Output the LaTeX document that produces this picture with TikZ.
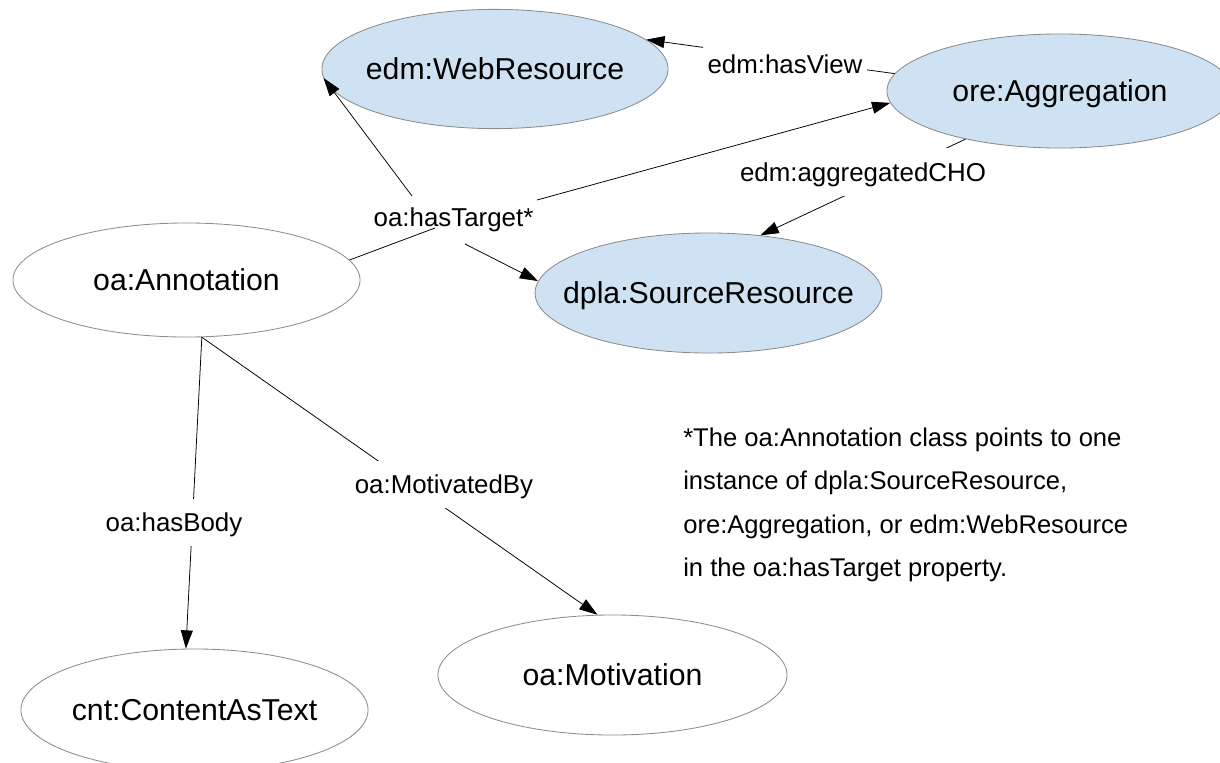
\documentclass[tikz,border=0pt]{standalone}
\usepackage{fontspec}
\setmainfont{Liberation Sans}
\usetikzlibrary{shapes.geometric,arrows.meta,calc}
\definecolor{nodeblue}{HTML}{CFE2F3}
\definecolor{edgegray}{HTML}{8C8C8C}
\newcommand\zerowd[1]{\makebox[0pt][c]{#1}}
\begin{document}
\begin{tikzpicture}[x=0.025cm,y=-0.025cm,
  cls/.style={ellipse,draw=edgegray,line width=0.6pt,inner sep=0pt,
    text height=15.4pt,text depth=0pt,font=\fontsize{21.5}{25}\selectfont},
  bluecls/.style={cls,fill=nodeblue},
  whitecls/.style={cls,fill=white},
  lbl/.style={fill=white,inner xsep=3pt,inner ysep=0pt,minimum height=1.175cm,
    text height=13.2pt,text depth=0pt,font=\fontsize{18.4}{22}\selectfont},
  conn/.style={draw=black,line width=0.55pt},
  arr/.style={conn,-{Triangle[length=13pt,width=8.5pt]}},
  foot/.style={anchor=base west,inner sep=0pt,font=\fontsize{18.2}{22}\selectfont}]
\useasboundingbox (0,0) rectangle (1220,762);

% class nodes
\node[bluecls,minimum width=8.65cm,minimum height=2.98cm] (web) at (495,69) {\zerowd{edm:WebResource}};
\node[bluecls,minimum width=8.65cm,minimum height=2.85cm] (agg) at (1060,91) {\zerowd{ore:Aggregation}};
\node[bluecls,minimum width=8.67cm,minimum height=3.0cm] (src) at (708.5,293) {\zerowd{dpla:SourceResource}};
\node[whitecls,minimum width=8.675cm,minimum height=2.85cm] (ann) at (186.5,280) {\zerowd{oa:Annotation}};
\node[whitecls,minimum width=8.675cm,minimum height=3.05cm] (cnt) at (194.5,710) {\zerowd{cnt:ContentAsText}};
\node[whitecls,minimum width=8.725cm,minimum height=3.0cm] (mot) at (612.5,675) {\zerowd{oa:Motivation}};

% shared target label
\node[lbl] (ht) at (453.5,217.5) {oa:hasTarget*};

% connectors
\draw[arr] (agg.174.7) -- (web.11.5);
\draw[arr] ($(ht)+(83.5,-17.5)$) -- (agg.184.1);
\draw[arr] ($(ht)+(-41.5,-21.5)$) -- (web.183.1);
\draw[arr] ($(ht)+(11.5,26.5)$) -- (src.176.4);
\draw[arr] (agg.207.1) -- (src.48.9);
\draw[arr] (ann.-75) -- (cnt.98.9);
\draw[arr] (ann.-75) -- (mot.104.5);

% edge labels
\node[lbl] (hv) at (785,64) {edm:hasView};
\node[lbl] (cho) at (863,172) {edm:aggregatedCHO};
\node[lbl] (hb) at (174,522.5) {oa:hasBody};
\node[lbl] (mb) at (444,484) {oa:MotivatedBy};

\draw[conn] (ann.7.4) -- ($(ht)+(-18.5,10.5)$);

% footnote
\node[foot] (fn1) at (683,446) {*The oa:Annotation class points to one};
\node[foot] (fn2) at (683,489.5) {instance of dpla:SourceResource,};
\node[foot] (fn3) at (683,533) {ore:Aggregation, or edm:WebResource};
\node[foot] (fn4) at (683,576.5) {in the oa:hasTarget property.};
\end{tikzpicture}
\end{document}
